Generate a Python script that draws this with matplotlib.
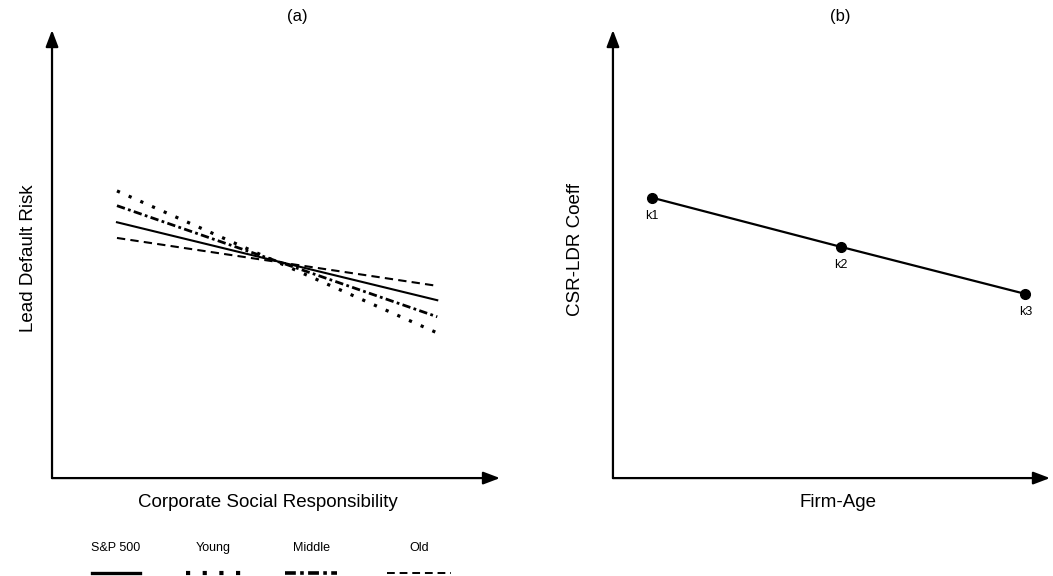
import matplotlib.pyplot as plt
from matplotlib.lines import Line2D

plt.rcParams['font.family'] = ['Liberation Sans', 'DejaVu Sans']

# panel (a): regression lines of lead default risk on CSR
csr_x = [1.45, 8.6]
groups = ['S&P 500', 'Young', 'Middle', 'Old']
ldr_start = [5.71, 6.41, 6.08, 5.36]
ldr_end = [3.97, 3.24, 3.60, 4.29]
styles = ['-', (0, (1, 3)), (0, (3, 1.2, 1, 1.2)), (0, (4, 2.5))]
widths = [1.5, 2.3, 2.0, 1.5]

# panel (b): CSR-LDR coefficient by firm age
age_x = [0.89, 5.22, 9.44]
coeff = [6.26, 5.16, 4.11]
k_labels = ['k1', 'k2', 'k3']

fig = plt.figure(figsize=(10.53, 5.76), dpi=100)
ax1 = fig.add_axes([0.0494, 0.170, 0.4254, 0.7778])
ax2 = fig.add_axes([0.5821, 0.170, 0.415, 0.7778])


def arrow_axes(ax):
    ax.set_xlim(0, 10)
    ax.set_ylim(0, 10)
    for s in ax.spines.values():
        s.set_visible(False)
    ax.set_xticks([])
    ax.set_yticks([])
    ax.patch.set_alpha(0)
    kw = dict(xycoords='axes fraction', textcoords='axes fraction',
              arrowprops=dict(arrowstyle='-|>,head_length=1.0,head_width=0.38',
                              color='black', lw=1.6, shrinkA=0, shrinkB=0))
    ax.annotate('', xy=(1.0, 0), xytext=(0, 0), **kw)
    ax.annotate('', xy=(0, 1.0), xytext=(0, 0), **kw)


arrow_axes(ax1)
arrow_axes(ax2)

for g, y0, y1, ls, lw in zip(groups, ldr_start, ldr_end, styles, widths):
    ax1.plot(csr_x, [y0, y1], color='black', linestyle=ls, lw=lw, label=g)

ax1.set_xlabel('Corporate Social Responsibility', fontsize=13.5)
ax1.set_ylabel('Lead Default Risk', fontsize=13.5)
ax1.xaxis.set_label_coords(0.482, -0.035)
ax1.yaxis.set_label_coords(-0.033, 0.49)

ax2.plot(age_x, coeff, color='black', lw=1.6, marker='o', markersize=7)
for x, y, lab in zip(age_x, coeff, k_labels):
    ax2.annotate(lab, (x, y), xytext=(0, -9), textcoords='offset points',
                 ha='center', va='top', fontsize=9)
ax2.set_xlabel('Firm-Age', fontsize=13.5)
ax2.set_ylabel('CSR-LDR Coeff', fontsize=13.5)
ax2.xaxis.set_label_coords(0.516, -0.035)
ax2.yaxis.set_label_coords(-0.066, 0.51)

fig.text(297 / 1053, 1 - 16 / 576, '(a)', ha='center', va='center', fontsize=12)
fig.text(840 / 1053, 1 - 16 / 576, '(b)', ha='center', va='center', fontsize=12)

# custom legend: label above each line sample
leg_x = [116 / 1053, 213 / 1053, 311 / 1053, 419 / 1053]
leg_w = [48 / 1053, 55 / 1053, 52 / 1053, 64 / 1053]
leg_lw = [2.4, 3.0, 2.6, 1.4]
for g, cx, w, ls, lw in zip(groups, leg_x, leg_w, styles, leg_lw):
    fig.text(cx, 1 - 548 / 576, g, ha='center', va='center', fontsize=9)
    fig.add_artist(Line2D([cx - w / 2, cx + w / 2], [1 - 573 / 576] * 2,
                          color='black', linestyle=ls, lw=lw,
                          transform=fig.transFigure))

fig.savefig('out.png', dpi=100)
